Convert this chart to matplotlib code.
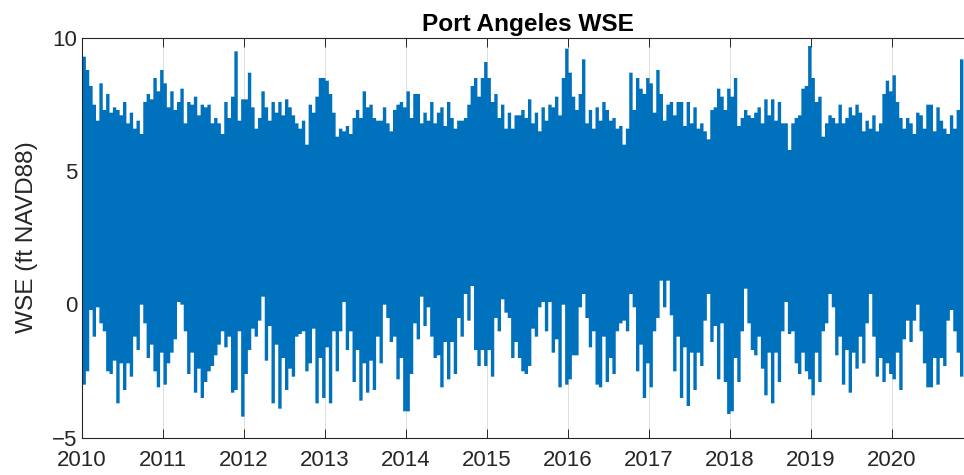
import numpy as np
import matplotlib.pyplot as plt

plt.rcParams['font.family'] = ['Liberation Sans', 'DejaVu Sans']

# semi-monthly peak water levels (ft NAVD88), one row per year
years = list(range(2010, 2021))

high_peaks = [
    [9.3, 8.8, 8.2, 7.5, 6.9, 8.3, 7.3, 7.9, 7.2, 7.4, 7.3, 7.1, 7.6, 6.8, 7.2, 6.6, 6.9, 6.4, 7.6, 7.9, 7.7, 8.5, 8.0, 8.8],
    [8.3, 7.4, 8.0, 7.3, 7.6, 8.1, 6.8, 7.6, 7.5, 7.8, 7.1, 7.5, 7.4, 7.5, 6.8, 7.0, 6.8, 6.4, 7.6, 7.0, 7.8, 9.5, 6.9, 7.7],
    [7.7, 8.7, 7.4, 6.6, 7.0, 8.0, 7.4, 6.9, 7.6, 7.2, 7.6, 7.1, 7.7, 7.4, 7.1, 6.8, 6.6, 6.9, 6.0, 7.5, 7.2, 7.8, 8.5, 8.5],
    [8.4, 7.9, 7.2, 6.3, 6.6, 6.5, 6.7, 6.4, 7.0, 7.3, 7.0, 8.0, 7.4, 7.5, 7.0, 6.9, 6.9, 7.4, 6.8, 6.5, 7.3, 7.5, 7.6, 7.4],
    [8.0, 7.0, 7.9, 7.9, 6.8, 7.2, 6.9, 7.6, 6.8, 7.2, 7.4, 6.7, 7.6, 7.0, 6.6, 6.9, 6.9, 7.0, 7.5, 8.2, 8.5, 7.8, 8.5, 9.1],
    [8.5, 7.6, 7.9, 7.0, 7.5, 6.6, 7.2, 6.6, 7.1, 7.1, 7.3, 7.0, 7.7, 6.8, 7.2, 6.5, 7.4, 6.9, 7.5, 7.4, 7.8, 7.1, 8.5, 9.6],
    [8.7, 7.8, 7.3, 7.9, 9.2, 6.8, 7.3, 6.6, 7.4, 6.9, 7.6, 7.3, 6.9, 7.0, 6.6, 6.7, 6.0, 6.6, 8.7, 7.3, 8.5, 8.1, 7.9, 8.5],
    [8.3, 7.2, 8.8, 7.9, 6.9, 7.5, 7.6, 7.1, 7.6, 7.6, 6.7, 7.6, 6.8, 7.4, 6.6, 6.8, 6.5, 6.2, 7.3, 7.4, 8.1, 7.8, 7.3, 8.1],
    [7.8, 8.5, 6.7, 7.0, 7.3, 7.1, 7.0, 7.2, 7.4, 6.8, 7.7, 7.1, 7.7, 6.9, 7.6, 6.8, 6.8, 5.8, 6.8, 7.0, 7.1, 8.1, 8.2, 9.7],
    [8.5, 7.6, 7.8, 6.3, 6.8, 7.1, 7.0, 6.8, 7.5, 6.8, 7.0, 7.4, 7.1, 7.5, 7.2, 6.5, 6.9, 6.6, 7.1, 6.5, 6.8, 7.9, 8.4, 8.0],
    [8.6, 7.6, 7.0, 6.6, 7.0, 6.8, 6.4, 7.2, 7.1, 6.6, 7.5, 7.5, 6.5, 7.4, 6.9, 6.6, 6.4, 7.1, 6.6, 7.3, 9.2, 9.3],
]

low_peaks = [
    [-3.0, -2.5, -0.2, -1.2, -0.1, -0.7, -1.0, -2.5, -2.6, -2.1, -3.7, -2.2, -3.2, -2.2, -2.7, -1.2, -1.7, 0.0, -0.7, -2.0, -1.5, -2.5, -3.1, -1.8],
    [-3.0, -2.2, -1.8, -1.3, 0.1, 0.0, -1.0, -2.6, -1.8, -3.3, -2.4, -3.5, -2.9, -2.5, -2.3, -1.9, -1.5, -1.0, -1.6, -1.2, -3.3, -3.2, -1.0, -4.2],
    [-2.6, -1.7, -0.9, -1.2, -0.6, 0.3, -2.1, -0.8, -3.7, -1.5, -3.9, -2.0, -3.2, -2.4, -2.7, -1.2, -1.1, -1.0, -2.5, -2.2, -0.9, -3.7, -2.0, -3.5],
    [-1.6, -3.7, -1.0, -2.5, -1.0, 0.1, -1.7, -1.0, -2.9, -1.7, -3.6, -2.2, -3.3, -2.1, -3.2, -1.2, -2.2, 0.0, -0.5, -1.4, -1.2, -2.8, -2.0, -4.0],
    [-4.0, -2.6, -0.7, -1.3, 0.3, -0.8, -0.1, -1.2, -2.0, -1.9, -3.1, -1.4, -2.8, -1.4, -2.6, -0.5, -1.2, 0.4, -0.6, 0.7, -1.7, -2.3, -1.7, -2.3],
    [-1.7, -2.7, -0.5, -1.0, 0.2, -0.3, -0.5, -2.0, -1.4, -2.0, -2.5, -2.6, -2.3, -0.9, -1.2, -0.1, 0.1, -1.0, 0.1, -1.8, -1.3, -3.1, 0.0, -3.0],
    [-2.8, -1.9, -1.9, -0.1, 0.4, -0.5, -1.6, -1.0, -3.0, -3.1, -1.2, -2.9, -2.0, -2.6, -1.0, -0.7, -0.6, -1.0, 0.4, -0.1, -2.5, -1.5, -3.5, -2.2],
    [-3.1, -1.0, -0.5, 0.9, -0.1, 0.9, -0.4, -2.5, -1.2, -3.5, -1.6, -3.8, -1.8, -3.2, -1.8, -2.3, -0.6, 0.4, -1.4, -0.8, -2.8, -0.7, -2.9, -4.1],
    [-4.0, -2.0, -2.9, -1.0, 0.6, -0.7, -1.7, -1.9, -1.2, -2.4, -3.4, -1.8, -3.7, -1.8, -2.9, -1.0, 0.1, -1.1, -1.0, -2.2, -2.6, -1.8, -2.5, -2.8],
    [-3.4, -1.8, -2.9, -1.0, -0.7, 0.4, -0.1, -1.9, -1.2, -3.0, -1.7, -3.3, -1.8, -2.4, -1.2, -2.2, -0.7, 0.4, -1.2, -2.7, -2.0, -2.9, -2.2, -2.6],
    [-2.8, -1.8, -3.2, -1.3, -0.6, -1.4, -0.6, 0.0, -1.0, -2.2, -3.1, -3.1, -2.0, -3.0, -2.0, -2.3, -0.6, -0.2, -1.0, -1.8, -2.7, -2.5],
]

t = []
for yr, row in zip(years, high_peaks):
    t += [yr + k / 24 for k in range(len(row))]
t = np.array(t)
hi = np.concatenate(high_peaks)
lo = np.concatenate(low_peaks)

fig = plt.figure(figsize=(9.64, 4.75), dpi=100)
ax = fig.add_axes([82 / 964, 37.5 / 475, 891 / 964, 400 / 475])

ax.fill_between(t, lo, hi, step='post', color='#0072BD', linewidth=0)

ax.set_xlim(2010, 2021)
ax.set_ylim(-5, 10)
ax.set_xticks(years)
ax.set_yticks([-5, 0, 5, 10])
ax.grid(axis='x', color='#dfdfdf', linewidth=0.7)
ax.set_axisbelow(True)

ax.tick_params(direction='in', length=6.5, width=0.7, color='#262626',
               labelsize=16, labelcolor='#262626', top=True, right=True)
ax.tick_params(axis='x', pad=9)
for s in ax.spines.values():
    s.set_color('#262626')
    s.set_linewidth(0.8)

ax.set_title('Port Angeles WSE', fontsize=17.6, fontweight='bold', color='black', pad=5)
ax.set_ylabel('WSE (ft NAVD88)', fontsize=17.6, color='#262626', labelpad=10)

fig.savefig('out.png', dpi=100)
